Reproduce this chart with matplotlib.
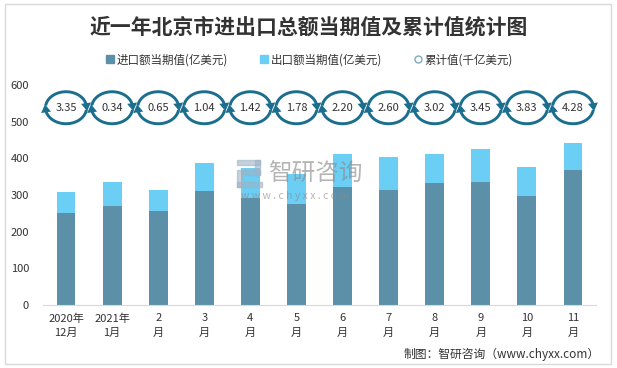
import numpy as np
import matplotlib
matplotlib.use("Agg")
import matplotlib.pyplot as plt
from matplotlib.patches import Rectangle, Polygon
from matplotlib.lines import Line2D

plt.rcParams['font.family'] = ['Noto Sans CJK SC', 'DejaVu Sans']

months = ["2020年\n12月", "2021年\n1月", "2\n月", "3\n月", "4\n月", "5\n月",
          "6\n月", "7\n月", "8\n月", "9\n月", "10\n月", "11\n月"]
imports = [251, 270, 257, 311, 292, 276, 322, 314, 333, 336, 298, 369]
exports = [58, 66, 57, 77, 81, 82, 90, 90, 79, 90, 79, 73]
cumulative = [3.35, 0.34, 0.65, 1.04, 1.42, 1.78, 2.20, 2.60, 3.02, 3.45, 3.83, 4.28]

W, H = 617, 368
c_imp = "#5b90a8"
c_exp = "#6acef5"
c_icon = "#1b6e8e"

fig = plt.figure(figsize=(W / 100, H / 100), dpi=100)
ax = fig.add_axes([43 / W, 1 - 305 / H, (596 - 43) / W, (305 - 85) / H])

x = np.arange(len(months))
ax.bar(x, imports, width=0.41, color=c_imp, zorder=2)
ax.bar(x, exports, width=0.41, bottom=imports, color=c_exp, zorder=2)

ax.set_xlim(-0.5, len(months) - 0.5)
ax.set_ylim(0, 600)
ax.set_yticks(range(0, 601, 100))
ax.set_xticks(x)
ax.set_xticklabels(months, linespacing=1.55)
ax.tick_params(axis='both', length=0, labelsize=8, colors="#333333")
ax.tick_params(axis='x', pad=6)
ax.tick_params(axis='y', pad=10)
for s in ["top", "right", "left"]:
    ax.spines[s].set_visible(False)
ax.spines["bottom"].set_color("#d9d9d9")

# cycle icons with cumulative values (drawn in pixel space)
cy = 538
rx, ry = 20.5, 16
hl, hw = 8, 5

def arrow_arc(px, py, a0, a1):
    t = np.radians(np.linspace(a0, a1, 60))
    xs = px + rx * np.cos(t)
    ys = py + ry * np.sin(t)
    d = np.array([xs[-1] - xs[-2], ys[-1] - ys[-2]])
    d /= np.hypot(*d)
    n = np.array([-d[1], d[0]])
    tip = np.array([xs[-1], ys[-1]]) + d * hl * 0.6
    base = tip - d * hl
    fig.add_artist(Line2D(xs / W, ys / H, transform=fig.transFigure, color=c_icon,
                          lw=2.1, solid_capstyle="butt", zorder=3))
    pts = np.array([tip, base + n * hw, base - n * hw])
    fig.add_artist(Polygon(pts / [W, H], closed=True, transform=fig.transFigure,
                           color=c_icon, lw=0, zorder=3))

fig.canvas.draw()
for i, v in enumerate(cumulative):
    px, py = ax.transData.transform((i, cy))
    arrow_arc(px, py, 172, 5)
    arrow_arc(px, py, -8, -175)
    ax.text(i, cy, f"{v:.2f}", ha="center", va="center", fontsize=8, color="#333333", zorder=4)

# watermark
for (lx, ly, lw_, lh) in [(237, 160, 23, 5), (255, 160, 5, 15), (242, 170, 18, 5),
                          (237, 170, 5, 17), (237, 182, 25, 5)]:
    fig.patches.append(Rectangle((lx / W, 1 - (ly + lh) / H), lw_ / W, lh / H,
                                 transform=fig.transFigure, color="#9fb4c6", alpha=0.6,
                                 zorder=5))
fig.text(268 / W, 1 - 174 / H, "智研咨询", fontsize=17, color="#8c8c8c", alpha=0.65,
         ha="left", va="center", zorder=5)
fig.text(241 / W, 1 - 196 / H, "w w w . c h y x x . c o m", fontsize=7.5, color="#8c8c8c",
         alpha=0.65, ha="left", va="center", zorder=5)

# title and legend
fig.text(0.5, 1 - 27 / H, "近一年北京市进出口总额当期值及累计值统计图", ha="center", va="center",
         fontsize=15, fontweight="bold", color="#333333")
handles = [Line2D([], [], marker='s', ls='', color=c_imp, markersize=6),
           Line2D([], [], marker='s', ls='', color=c_exp, markersize=6),
           Line2D([], [], marker='o', ls='', markerfacecolor='white',
                  markeredgecolor='#7fa8bf', markersize=5)]
fig.legend(handles, ["进口额当期值(亿美元)", "出口额当期值(亿美元)", "累计值(千亿美元)"],
           loc="center", bbox_to_anchor=(0.5, 1 - 60 / H), ncol=3, frameon=False,
           fontsize=8.3, handletextpad=0.1, columnspacing=2.6, handlelength=1,
           labelcolor="#333333")

fig.text(600 / W, 1 - 354 / H, "制图：智研咨询（www.chyxx.com）", ha="right", va="center",
         fontsize=8.5, color="#333333")

fig.patches.append(Rectangle((5 / W, 1 - 364 / H), 606 / W, 360 / H, transform=fig.transFigure,
                             fill=False, edgecolor="#d9d9d9", lw=1))

fig.savefig("out.png", dpi=100)
